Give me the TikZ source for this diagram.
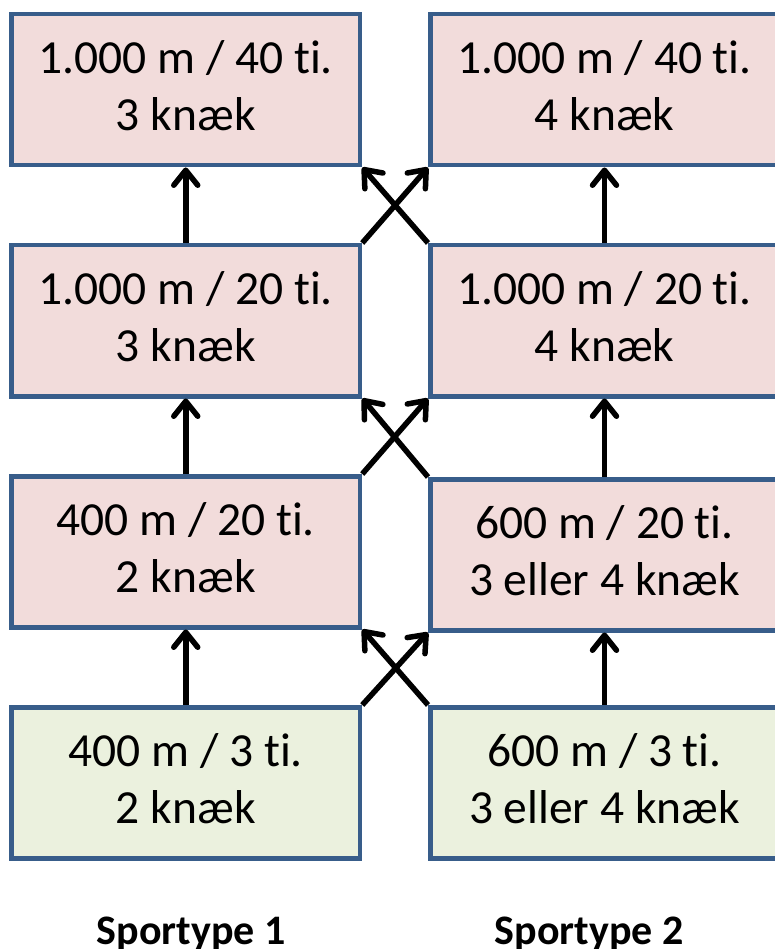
\documentclass[tikz,border=0pt]{standalone}
\usepackage{fontspec}
\setmainfont{Carlito}[Ligatures=NoCommon]
\usepackage{xcolor}
\usepackage{tikz}
\definecolor{kantblaa}{HTML}{385D8A}
\definecolor{lyserfyld}{HTML}{F2DCDB}
\definecolor{groenfyld}{HTML}{EBF1DE}
\tikzstyle{kasse} = [draw=kantblaa, line width=4.5pt, minimum width=348.5pt, minimum height=151pt, inner sep=0pt, text depth=8pt, align=center]
\tikzstyle{lyser} = [kasse, fill=lyserfyld]
\tikzstyle{groen} = [kasse, fill=groenfyld]
\tikzstyle{pil} = [line width=5.5pt, -{Straight Barb[length=15pt, width=24pt, line cap=round, line join=round]}]
\usetikzlibrary{arrows.meta}

\begin{document}
\begin{tikzpicture}[x=1pt, y=1pt, node distance=231pt]
  \tikzstyle{every node}=[font=\fontsize{47.5}{57}\selectfont]
  \useasboundingbox (0,0) rectangle (774,-949);

  % Sportype 1
  \node[groen] (L1) at (185.75,-782.75) {400 m / 3 ti.\\2 knæk};
  \node[lyser] (L2) [above of=L1] {400 m / 20 ti.\\2 knæk};
  \node[lyser] (L3) [above of=L2] {1.000 m / 20 ti.\\3 knæk};
  \node[lyser] (L4) [above of=L3] {1.000 m / 40 ti.\\3 knæk};

  % Sportype 2
  \node[groen] (R1) [node distance=418.75pt, right of=L1] {600 m / 3 ti.\\3 eller 4 knæk};
  \node[lyser] (R2) [node distance=418.75pt, right of=L2, yshift=-3pt] {600 m / 20 ti.\\3 eller 4 knæk};
  \node[lyser] (R3) [node distance=418.75pt, right of=L3] {1.000 m / 20 ti.\\4 knæk};
  \node[lyser] (R4) [node distance=418.75pt, right of=L4] {1.000 m / 40 ti.\\4 knæk};

  \node (S1) at (191,-944) [anchor=base, font=\fontsize{42}{50}\selectfont\bfseries] {Sportype 1};
  \node (S2) at (589,-944) [anchor=base, font=\fontsize{42}{50}\selectfont\bfseries] {Sportype 2};

  \draw[pil] (L1) -- (L2);
  \draw[pil] (L2) -- (L3);
  \draw[pil] (L3) -- (L4);
  \draw[pil] (R1) -- (R2);
  \draw[pil] (R2) -- (R3);
  \draw[pil] (R3) -- (R4);

  \draw[pil] (L1.north east) -- (R2.south west);
  \draw[pil] (R1.north west) -- (L2.south east);
  \draw[pil] (L2.north east) -- (R3.south west);
  \draw[pil] (R2.north west) -- (L3.south east);
  \draw[pil] (L3.north east) -- (R4.south west);
  \draw[pil] (R3.north west) -- (L4.south east);
\end{tikzpicture}
\end{document}
